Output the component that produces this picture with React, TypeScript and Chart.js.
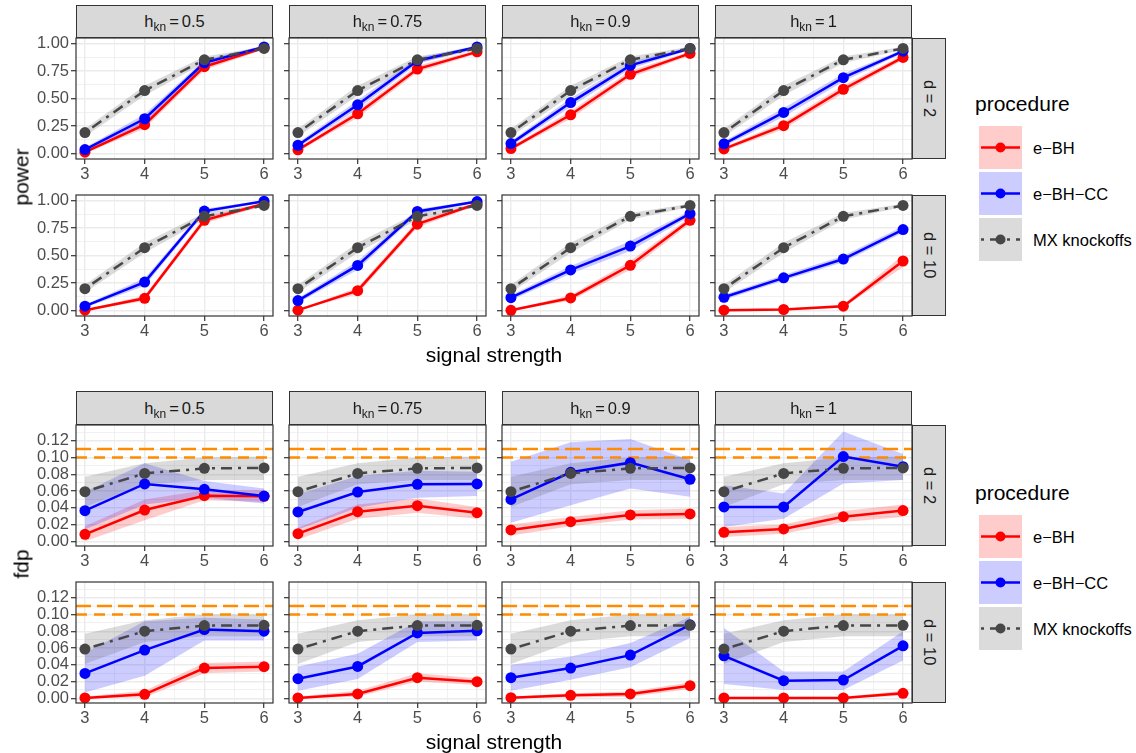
import React, { useEffect, useRef } from "react";
import { Chart, registerables } from "chart.js";
Chart.register(...registerables);

const FONT = '"Liberation Sans", Arial, Helvetica, sans-serif';

// ---------- axes / labels ----------
const signalStrength = [3, 4, 5, 6];
const xMinorBreaks = [3.5, 4.5, 5.5];
const xLimits = [2.85, 6.15];
const hknLabels = ["0.5", "0.75", "0.9", "1"];
const dLabels = ["2", "10"];
const procedureNames = ["e\u2212BH", "e\u2212BH\u2212CC", "MX knockoffs"];
const powerBreaks = [0, 0.25, 0.5, 0.75, 1];
const powerMinorBreaks = [0.125, 0.375, 0.625, 0.875];
const powerLimits = [-0.05, 1.05];
const fdpBreaks = [0, 0.02, 0.04, 0.06, 0.08, 0.1, 0.12];
const fdpMinorBreaks = [0.01, 0.03, 0.05, 0.07, 0.09, 0.11, 0.13];
const fdpLimits = [-0.0056, 0.1387];
const fdrTargets = [0.1, 0.11];

// ---------- power, d = 2 (one row per h_kn) ----------
const power_d2_eBH = [
  [0.012, 0.262, 0.789, 0.96],
  [0.033, 0.361, 0.768, 0.924],
  [0.045, 0.352, 0.72, 0.91],
  [0.042, 0.253, 0.584, 0.873],
];
const power_d2_eBHCC = [
  [0.036, 0.316, 0.825, 0.969],
  [0.075, 0.443, 0.843, 0.969],
  [0.09, 0.463, 0.801, 0.955],
  [0.088, 0.373, 0.689, 0.93],
];
const power_d2_MX = [
  [0.19, 0.572, 0.852, 0.955],
  [0.19, 0.572, 0.852, 0.955],
  [0.19, 0.572, 0.852, 0.955],
  [0.19, 0.572, 0.852, 0.955],
];
const power_d2_eBH_hw = [
  [0.012, 0.035, 0.03, 0.015],
  [0.015, 0.035, 0.03, 0.018],
  [0.018, 0.035, 0.032, 0.018],
  [0.018, 0.032, 0.035, 0.022],
];
const power_d2_eBHCC_hw = [
  [0.018, 0.04, 0.028, 0.012],
  [0.022, 0.04, 0.028, 0.012],
  [0.024, 0.04, 0.03, 0.014],
  [0.024, 0.04, 0.035, 0.016],
];
const power_d2_MX_hw = [
  [0.035, 0.045, 0.03, 0.015],
  [0.035, 0.045, 0.03, 0.015],
  [0.035, 0.045, 0.03, 0.015],
  [0.035, 0.045, 0.03, 0.015],
];

// ---------- power, d = 10 ----------
const power_d10_eBH = [
  [0.003, 0.111, 0.82, 0.97],
  [0.003, 0.18, 0.785, 0.97],
  [0.002, 0.114, 0.411, 0.82],
  [0.003, 0.009, 0.039, 0.45],
];
const power_d10_eBHCC = [
  [0.039, 0.258, 0.904, 0.994],
  [0.09, 0.41, 0.9, 0.99],
  [0.117, 0.369, 0.586, 0.88],
  [0.12, 0.297, 0.468, 0.736],
];
const power_d10_MX = [
  [0.198, 0.571, 0.856, 0.955],
  [0.198, 0.571, 0.856, 0.955],
  [0.198, 0.571, 0.856, 0.955],
  [0.198, 0.571, 0.856, 0.955],
];
const power_d10_eBH_hw = [
  [0.004, 0.025, 0.03, 0.012],
  [0.004, 0.03, 0.03, 0.012],
  [0.004, 0.025, 0.04, 0.03],
  [0.004, 0.006, 0.015, 0.055],
];
const power_d10_eBHCC_hw = [
  [0.015, 0.035, 0.022, 0.006],
  [0.022, 0.04, 0.022, 0.008],
  [0.024, 0.035, 0.045, 0.025],
  [0.024, 0.025, 0.03, 0.03],
];
const power_d10_MX_hw = [
  [0.035, 0.045, 0.03, 0.015],
  [0.035, 0.045, 0.03, 0.015],
  [0.035, 0.045, 0.03, 0.015],
  [0.035, 0.045, 0.03, 0.015],
];

// ---------- fdp, d = 2 ----------
const fdp_d2_eBH = [
  [0.0083, 0.0373, 0.0544, 0.0536],
  [0.0091, 0.0353, 0.0425, 0.0341],
  [0.0135, 0.0234, 0.0314, 0.0326],
  [0.0107, 0.0147, 0.0294, 0.0366],
];
const fdp_d2_eBH_lo = [
  [0.0, 0.025, 0.049, 0.047],
  [0.002, 0.027, 0.034, 0.027],
  [0.007, 0.018, 0.026, 0.027],
  [0.005, 0.009, 0.023, 0.029],
];
const fdp_d2_eBH_hi = [
  [0.018, 0.05, 0.061, 0.061],
  [0.016, 0.044, 0.051, 0.041],
  [0.02, 0.029, 0.037, 0.039],
  [0.017, 0.02, 0.036, 0.044],
];
const fdp_d2_eBHCC = [
  [0.0365, 0.0684, 0.062, 0.054],
  [0.035, 0.0588, 0.068, 0.0684],
  [0.05, 0.0823, 0.0938, 0.074],
  [0.041, 0.041, 0.101, 0.089],
];
const fdp_d2_eBHCC_lo = [
  [0.014, 0.044, 0.052, 0.045],
  [0.014, 0.04, 0.052, 0.054],
  [0.022, 0.043, 0.063, 0.053],
  [0.017, 0.027, 0.069, 0.073],
];
const fdp_d2_eBHCC_hi = [
  [0.059, 0.093, 0.072, 0.063],
  [0.056, 0.078, 0.084, 0.083],
  [0.095, 0.118, 0.122, 0.097],
  [0.067, 0.057, 0.131, 0.104],
];
const fdp_d2_MX = [
  [0.0592, 0.081, 0.087, 0.0875],
  [0.0592, 0.081, 0.087, 0.0875],
  [0.0592, 0.081, 0.087, 0.0875],
  [0.0592, 0.081, 0.087, 0.0875],
];
const fdp_d2_MX_lo = [
  [0.041, 0.068, 0.073, 0.073],
  [0.041, 0.068, 0.073, 0.073],
  [0.041, 0.068, 0.073, 0.073],
  [0.041, 0.068, 0.073, 0.073],
];
const fdp_d2_MX_hi = [
  [0.077, 0.093, 0.1, 0.101],
  [0.077, 0.093, 0.1, 0.101],
  [0.077, 0.093, 0.1, 0.101],
  [0.077, 0.093, 0.1, 0.101],
];

// ---------- fdp, d = 10 ----------
const fdp_d10_eBH = [
  [0.0005, 0.0048, 0.0361, 0.0377],
  [0.0005, 0.0052, 0.0246, 0.0198],
  [0.0008, 0.0036, 0.0052, 0.0151],
  [0.0004, 0.0005, 0.0005, 0.006],
];
const fdp_d10_eBH_lo = [
  [0.0, 0.001, 0.03, 0.032],
  [0.0, 0.002, 0.02, 0.016],
  [0.0, 0.001, 0.002, 0.011],
  [0.0, 0.0, 0.0, 0.003],
];
const fdp_d10_eBH_hi = [
  [0.002, 0.009, 0.042, 0.044],
  [0.002, 0.009, 0.03, 0.024],
  [0.002, 0.006, 0.008, 0.019],
  [0.002, 0.002, 0.002, 0.009],
];
const fdp_d10_eBHCC = [
  [0.0297, 0.0575, 0.082, 0.08],
  [0.0234, 0.038, 0.078, 0.0805],
  [0.0246, 0.0361, 0.0515, 0.0876],
  [0.0507, 0.021, 0.0218, 0.0626],
];
const fdp_d10_eBHCC_lo = [
  [0.007, 0.027, 0.069, 0.069],
  [0.009, 0.023, 0.067, 0.069],
  [0.009, 0.022, 0.037, 0.072],
  [0.017, 0.01, 0.01, 0.045],
];
const fdp_d10_eBHCC_hi = [
  [0.054, 0.092, 0.096, 0.094],
  [0.038, 0.053, 0.092, 0.092],
  [0.04, 0.05, 0.066, 0.097],
  [0.084, 0.032, 0.032, 0.08],
];
const fdp_d10_MX = [
  [0.0587, 0.0801, 0.0867, 0.087],
  [0.0587, 0.0801, 0.0867, 0.087],
  [0.0587, 0.0801, 0.0867, 0.087],
  [0.0587, 0.0801, 0.0867, 0.087],
];
const fdp_d10_MX_lo = [
  [0.041, 0.067, 0.074, 0.074],
  [0.041, 0.067, 0.074, 0.074],
  [0.041, 0.067, 0.074, 0.074],
  [0.041, 0.067, 0.074, 0.074],
];
const fdp_d10_MX_hi = [
  [0.077, 0.093, 0.1, 0.1],
  [0.077, 0.093, 0.1, 0.1],
  [0.077, 0.093, 0.1, 0.1],
  [0.077, 0.093, 0.1, 0.1],
];

// ---------- styling ----------
const procStyles = [
  { color: "#FF0000", fill: "rgba(255,0,0,0.2)", dash: [] as number[] },
  { color: "#0000FF", fill: "rgba(0,0,255,0.2)", dash: [] as number[] },
  { color: "#474747", fill: "rgba(77,77,77,0.2)", dash: [3, 6, 11, 6] },
];
const ORANGE = "#FF8C00";
const fdrDashes = [[11, 7], [15, 6]];

const colLefts = [76, 289, 502, 715];
const PANEL_W = 197;
const PANEL_H = 121;
const YAX = 50;
const PADT = 12;
const PADR = 8;
const XAX = 28;

type Band = { mean: number[]; lo: number[]; hi: number[] };

const toXY = (vals: number[]) => signalStrength.map((x, i) => ({ x, y: vals[i] }));
const inList = (list: number[], v: number) => list.some((b) => Math.abs(b - v) < 1e-9);

const panelBorder = {
  id: "panelBorder",
  afterDraw(chart: any) {
    const { ctx, chartArea } = chart;
    ctx.save();
    ctx.strokeStyle = "#333333";
    ctx.lineWidth = 1.2;
    ctx.strokeRect(chartArea.left, chartArea.top, chartArea.right - chartArea.left, chartArea.bottom - chartArea.top);
    ctx.restore();
  },
};

function PanelChart(props: { left: number; top: number; bands: Band[]; kind: "power" | "fdp"; showYLabels: boolean }) {
  const { left, top, bands, kind, showYLabels } = props;
  const ref = useRef<HTMLCanvasElement>(null);
  useEffect(() => {
    const isPower = kind === "power";
    const yMajor = isPower ? powerBreaks : fdpBreaks;
    const yMinor = isPower ? powerMinorBreaks : fdpMinorBreaks;
    const yLim = isPower ? powerLimits : fdpLimits;
    const datasets: any[] = [];
    bands.forEach((b, i) => {
      const st = procStyles[i];
      datasets.push({ data: toXY(b.lo), borderColor: "rgba(0,0,0,0)", borderWidth: 0, pointRadius: 0, fill: false, order: 40 - i });
      datasets.push({ data: toXY(b.hi), borderColor: "rgba(0,0,0,0)", borderWidth: 0, pointRadius: 0, fill: "-1", backgroundColor: st.fill, order: 40 - i });
    });
    if (!isPower) {
      fdrTargets.forEach((t, j) => {
        datasets.push({
          data: [{ x: xLimits[0], y: t }, { x: xLimits[1], y: t }],
          borderColor: ORANGE, borderWidth: 2.6, borderDash: fdrDashes[j], pointRadius: 0, fill: false, order: 30,
        });
      });
    }
    bands.forEach((b, i) => {
      const st = procStyles[i];
      datasets.push({ data: toXY(b.mean), borderColor: st.color, borderWidth: 2.5, borderDash: st.dash, pointRadius: 0, fill: false, order: 20 - i });
    });
    bands.forEach((b, i) => {
      const st = procStyles[i];
      datasets.push({
        data: toXY(b.mean), showLine: false, pointRadius: 5.5, pointHoverRadius: 5.5,
        pointBackgroundColor: st.color, pointBorderColor: st.color, pointBorderWidth: 0, order: 10 - i,
      });
    });

    const chart = new Chart(ref.current!, {
      type: "line",
      data: { datasets },
      plugins: [panelBorder],
      options: {
        animation: false,
        responsive: false,
        maintainAspectRatio: false,
        layout: { padding: { top: PADT, right: PADR, left: 0, bottom: 0 } },
        elements: { line: { tension: 0 } },
        plugins: { legend: { display: false }, tooltip: { enabled: false } },
        events: [],
        scales: {
          x: {
            type: "linear",
            min: xLimits[0],
            max: xLimits[1],
            afterBuildTicks: (axis: any) => {
              axis.ticks = [...signalStrength, ...xMinorBreaks].sort((a, b) => a - b).map((value) => ({ value }));
            },
            afterFit: (s: any) => { s.height = XAX; },
            border: { display: false },
            grid: {
              color: "#EBEBEB",
              lineWidth: (c: any) => (inList(signalStrength, c.tick?.value) ? 1.4 : 0.7),
              tickLength: 5,
              tickColor: (c: any) => (inList(signalStrength, c.tick?.value) ? "#333333" : "rgba(0,0,0,0)"),
              tickWidth: 1.2,
            },
            ticks: {
              autoSkip: false,
              maxRotation: 0,
              padding: 1,
              color: "#4D4D4D",
              font: { size: 16.5, family: FONT },
              callback: (v: any) => (inList(signalStrength, Number(v)) ? String(v) : ""),
            },
          },
          y: {
            type: "linear",
            min: yLim[0],
            max: yLim[1],
            afterBuildTicks: (axis: any) => {
              axis.ticks = [...yMajor, ...yMinor]
                .filter((v) => v >= yLim[0] && v <= yLim[1])
                .sort((a, b) => a - b)
                .map((value) => ({ value }));
            },
            afterFit: (s: any) => { s.width = YAX; },
            border: { display: false },
            grid: {
              color: "#EBEBEB",
              lineWidth: (c: any) => (inList(yMajor, c.tick?.value) ? 1.4 : 0.7),
              tickLength: 5,
              tickColor: (c: any) => (inList(yMajor, c.tick?.value) ? "#333333" : "rgba(0,0,0,0)"),
              tickWidth: 1.2,
            },
            ticks: {
              autoSkip: false,
              padding: 2,
              color: "#4D4D4D",
              font: { size: 16.5, family: FONT },
              callback: (v: any) => (showYLabels && inList(yMajor, Number(v)) ? Number(v).toFixed(2) : ""),
            },
          },
        },
      } as any,
    });
    return () => chart.destroy();
  }, []);
  const w = YAX + PANEL_W + PADR;
  const h = PADT + PANEL_H + XAX;
  return (
    <canvas
      ref={ref}
      width={w}
      height={h}
      style={{ position: "absolute", left: left - YAX, top: top - PADT, width: w, height: h }}
    />
  );
}

function TopStrip({ left, top, height, label }: { left: number; top: number; height: number; label: string }) {
  return (
    <div
      style={{
        position: "absolute", left, top, width: PANEL_W, height, boxSizing: "border-box",
        background: "#D9D9D9", border: "1.2px solid #333333", display: "flex", alignItems: "center",
        justifyContent: "center", fontFamily: FONT, fontSize: 16.5, color: "#1A1A1A", whiteSpace: "nowrap",
      }}
    >
      <span>
        h<span style={{ fontSize: 12, position: "relative", top: 4 }}>kn</span>
        <span style={{ margin: "0 3px" }}>=</span>
        {label}
      </span>
    </div>
  );
}

function RightStrip({ top, label }: { top: number; label: string }) {
  return (
    <div
      style={{
        position: "absolute", left: 912, top, width: 34, height: PANEL_H, boxSizing: "border-box",
        background: "#D9D9D9", border: "1.2px solid #333333", display: "flex", alignItems: "center",
        justifyContent: "center", fontFamily: FONT, fontSize: 16.5, color: "#1A1A1A",
      }}
    >
      <span style={{ writingMode: "vertical-rl", whiteSpace: "nowrap" }}>d = {label}</span>
    </div>
  );
}

function Legend({ titleY }: { titleY: number }) {
  return (
    <>
      <div style={{ position: "absolute", left: 975, top: titleY, transform: "translateY(-50%)", fontFamily: FONT, fontSize: 21, lineHeight: 1, color: "#000" }}>
        procedure
      </div>
      {procedureNames.map((name, i) => {
        const keyTop = titleY + 23 + i * 46;
        const st = procStyles[i];
        return (
          <React.Fragment key={name}>
            <svg width={43} height={43} style={{ position: "absolute", left: 979, top: keyTop }}>
              <rect x={0} y={0} width={43} height={43} fill={st.fill} />
              <line x1={2} x2={41} y1={21.5} y2={21.5} stroke={st.color} strokeWidth={2.5} strokeDasharray={st.dash.length ? st.dash.join(" ") : undefined} />
              <circle cx={21.5} cy={21.5} r={5} fill={st.color} />
            </svg>
            <div style={{ position: "absolute", left: 1033, top: keyTop + 21.5, transform: "translateY(-50%)", fontFamily: FONT, fontSize: 16.5, lineHeight: 1, color: "#000", whiteSpace: "nowrap" }}>
              {name}
            </div>
          </React.Fragment>
        );
      })}
    </>
  );
}

function Figure(props: { kind: "power" | "fdp"; stripTop: number; stripH: number; rowTops: number[]; xTitleY: number; yTitle: string; legendY: number; data: Band[][][] }) {
  const { kind, stripTop, stripH, rowTops, xTitleY, yTitle, legendY, data } = props;
  const midY = (rowTops[0] + rowTops[1] + PANEL_H) / 2;
  return (
    <>
      {rowTops.map((rt, r) =>
        colLefts.map((cl, c) => (
          <PanelChart key={`${kind}-${r}-${c}`} left={cl} top={rt} bands={data[r][c]} kind={kind} showYLabels={c === 0} />
        ))
      )}
      {colLefts.map((cl, c) => (
        <TopStrip key={`s${c}`} left={cl} top={stripTop} height={stripH} label={hknLabels[c]} />
      ))}
      {rowTops.map((rt, r) => (
        <RightStrip key={`r${r}`} top={rt} label={dLabels[r]} />
      ))}
      <div style={{ position: "absolute", left: 494, top: xTitleY, transform: "translate(-50%,-50%)", fontFamily: FONT, fontSize: 21, lineHeight: 1, color: "#000", whiteSpace: "nowrap" }}>
        signal strength
      </div>
      <div style={{ position: "absolute", left: 21, top: midY, transform: "translate(-50%,-50%) rotate(-90deg)", fontFamily: FONT, fontSize: 21, lineHeight: 1, color: "#000", whiteSpace: "nowrap" }}>
        {yTitle}
      </div>
      <Legend titleY={legendY} />
    </>
  );
}

function buildPower(): Band[][][] {
  const mk = (m: number[][], hw: number[][], c: number): Band => ({
    mean: m[c],
    lo: m[c].map((v, i) => v - hw[c][i]),
    hi: m[c].map((v, i) => v + hw[c][i]),
  });
  return [
    [0, 1, 2, 3].map((c) => [mk(power_d2_eBH, power_d2_eBH_hw, c), mk(power_d2_eBHCC, power_d2_eBHCC_hw, c), mk(power_d2_MX, power_d2_MX_hw, c)]),
    [0, 1, 2, 3].map((c) => [mk(power_d10_eBH, power_d10_eBH_hw, c), mk(power_d10_eBHCC, power_d10_eBHCC_hw, c), mk(power_d10_MX, power_d10_MX_hw, c)]),
  ];
}

function buildFdp(): Band[][][] {
  const mk = (m: number[][], lo: number[][], hi: number[][], c: number): Band => ({ mean: m[c], lo: lo[c], hi: hi[c] });
  return [
    [0, 1, 2, 3].map((c) => [
      mk(fdp_d2_eBH, fdp_d2_eBH_lo, fdp_d2_eBH_hi, c),
      mk(fdp_d2_eBHCC, fdp_d2_eBHCC_lo, fdp_d2_eBHCC_hi, c),
      mk(fdp_d2_MX, fdp_d2_MX_lo, fdp_d2_MX_hi, c),
    ]),
    [0, 1, 2, 3].map((c) => [
      mk(fdp_d10_eBH, fdp_d10_eBH_lo, fdp_d10_eBH_hi, c),
      mk(fdp_d10_eBHCC, fdp_d10_eBHCC_lo, fdp_d10_eBHCC_hi, c),
      mk(fdp_d10_MX, fdp_d10_MX_lo, fdp_d10_MX_hi, c),
    ]),
  ];
}

export default function App() {
  return (
    <div style={{ position: "absolute", left: 0, top: 0, width: 1136, height: 753, background: "#FFFFFF", overflow: "hidden" }}>
      <Figure kind="power" stripTop={5} stripH={33} rowTops={[38, 195]} xTitleY={354} yTitle="power" legendY={103} data={buildPower()} />
      <Figure kind="fdp" stripTop={391} stripH={34} rowTops={[425, 582]} xTitleY={741} yTitle="fdp" legendY={492} data={buildFdp()} />
    </div>
  );
}
